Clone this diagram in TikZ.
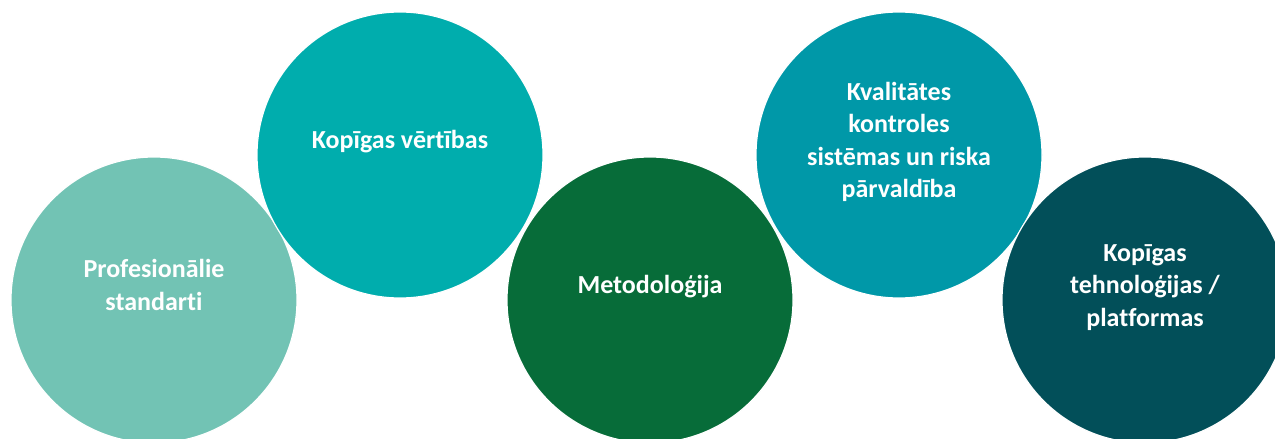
\documentclass[tikz,border=0pt]{standalone}
\usepackage{fontspec}
\setmainfont{Carlito}[Ligatures=NoCommon]
\usetikzlibrary{calc}
\definecolor{paleteal}{RGB}{114,195,180}
\definecolor{midteal}{RGB}{0,173,173}
\definecolor{deepgreen}{RGB}{7,108,57}
\definecolor{seablue}{RGB}{0,152,168}
\definecolor{darkteal}{RGB}{2,79,89}

\begin{document}
\begin{tikzpicture}[x=1pt, y=-1pt,
		bubble/.style={circle, draw=white, line width=1.2pt, minimum size=286pt, inner sep=0pt},
		caption/.style={anchor=base, align=center, text=white, inner sep=0pt,
			font=\fontsize{26}{32.5}\selectfont\bfseries}]
	%%%%% START %%%%%
	\useasboundingbox (0, 0) rectangle (1275, 439);
	
	\node[bubble, fill=paleteal] (standarti) at (154, 300) {};
	\node[bubble, fill=midteal] (vertibas) at (400, 155) {};
	\node[bubble, fill=deepgreen] (metodologija) at (650, 300) {};
	\node[bubble, fill=seablue] (kvalitate) at (899, 155) {};
	\node[bubble, fill=darkteal] (platformas) at (1145, 300) {};
	
	% base = last line
	\node[caption] (standarti-txt) at ($(standarti)+(0, 10)$) {Profesionālie\\standarti};
	\node[caption] (vertibas-txt) at ($(vertibas)+(0, -6.25)$) {Kopīgas vērtības};
	\node[caption] (metodologija-txt) at ($(metodologija)+(0, -6.25)$) {Metodoloģija};
	\node[caption] (kvalitate-txt) at ($(kvalitate)+(0, 42.5)$) {Kvalitātes\\kontroles\\sistēmas un riska\\pārvaldība};
	\node[caption] (platformas-txt) at ($(platformas)+(0, 26.25)$) {Kopīgas\\tehnoloģijas /\\platformas};
	
	%%%%% END %%%%%
\end{tikzpicture}
\end{document}
